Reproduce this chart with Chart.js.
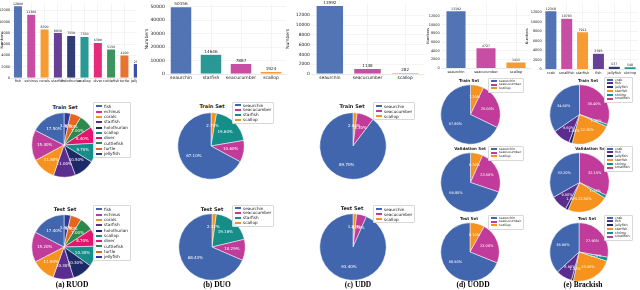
<!DOCTYPE html>
<html>
<head>
<meta charset="utf-8">
<script src="https://cdn.jsdelivr.net/npm/chart.js@4.4.1/dist/chart.umd.min.js"></script>
<style>
  body { margin: 0; background: #fff; width: 640px; height: 290px; position: relative; overflow: hidden; font-family: "DejaVu Sans", sans-serif; }
  canvas { position: absolute; }
  .box { position: absolute; overflow: hidden; }
  .ttl { position: absolute; font-weight: bold; color: #222; white-space: nowrap; transform: translate(-50%, -50%); }
  .lg { position: absolute; border: 0.5px solid #d8d8d8; background: rgba(255,255,255,0.85); padding: 0.5px 2px; border-radius: 1px; color: #222; white-space: nowrap; }
  .lg span { display: inline-block; width: 6px; height: 2px; margin-right: 2px; vertical-align: middle; }
  .cap { position: absolute; font-family: "Liberation Serif", serif; font-weight: bold; font-size: 7.5px; white-space: nowrap; transform: translate(-50%, -50%); }
</style>
</head>
<body>
<script>
// colours
const C = { blue: '#4166ae', pink: '#c13c9a', orange: '#f6921e', purple: '#5a2d8e', navy: '#1e2a68',
  teal: '#158e8a', red: '#e3166f', green: '#2b8a4b', dorange: '#e6661e', jblue: '#2c3c9e' };

// y tick labels
const ticks12k = [0, 2000, 4000, 6000, 8000, 10000, 12000];
const ticks50k = [0, 10000, 20000, 30000, 40000, 50000];

// RUOD
const ruodCats = ['fish', 'echinus', 'corals', 'starfish', 'holothurian', 'scallop', 'diver', 'cuttlefish', 'turtle', 'jellyfish'];
const ruodCounts = [12800, 11300, 8700, 8050, 7550, 7350, 6300, 5150, 4100, 2550];
const ruodTrain = [17.5, 15.4, 11.8, 11.0, 10.5, 9.7, 8.4, 7.0, 5.4, 3.3];
const ruodTest = [17.4, 15.2, 11.9, 10.3, 10.3, 10.3, 8.7, 7.0, 5.5, 3.4];
const ruodColors = [C.blue, C.pink, C.orange, C.purple, C.navy, C.teal, C.red, C.green, C.dorange, C.jblue];

// DUO
const duoBarCats = ['seaurchin', 'starfish', 'seacucumber', 'scallop'];
const duoCounts = [50156, 14646, 7887, 1924];
const duoBarColors = [C.blue, C.teal, C.pink, C.orange];
const duoPieCats = ['seaurchin', 'seacucumber', 'starfish', 'scallop'];
const duoTrain = [67.1, 10.6, 19.6, 2.7];
const duoTest = [68.43, 10.29, 19.16, 2.12];
const duoPieColors = [C.blue, C.pink, C.teal, C.orange];

// UDD
const uddCats = ['seaurchin', 'seacucumber', 'scallop'];
const uddCounts = [13992, 1148, 282];
const uddTrain = [89.7, 8.3, 2.0];
const uddTest = [93.4, 4.78, 1.82];

// UODD
const uoddCats = ['seaurchin', 'seacucumber', 'scallop'];
const uoddCounts = [13192, 4727, 1415];
const uoddTrain = [67.8, 25.0, 7.2];
const uoddVal = [69.8, 23.5, 6.7];
const uoddTest = [68.9, 23.0, 8.1];
const threeColors = [C.blue, C.pink, C.orange];

// Brackish
const brBarCats = ['crab', 'smallfish', 'starfish', 'fish', 'jellyfish', 'shrimp'];
const brCounts = [12368, 10793, 7912, 3393, 637, 548];
const brBarColors = [C.blue, C.pink, C.orange, C.purple, C.navy, C.teal];
const brPieCats = ['crab', 'fish', 'jellyfish', 'starfish', 'shrimp', 'smallfish'];
const brTrain = [34.6, 9.6, 1.8, 22.3, 1.3, 30.4];
const brVal = [33.2, 9.0, 1.5, 22.5, 1.7, 32.1];
const brTest = [36.9, 8.9, 1.1, 23.0, 2.2, 27.9];
const brPieColors = [C.blue, C.purple, C.navy, C.orange, C.teal, C.pink];

Chart.defaults.font.family = '"DejaVu Sans", sans-serif';
Chart.defaults.color = '#222';

const barValues = {
  id: 'barValues',
  afterDatasetsDraw(chart, args, opts) {
    const ctx = chart.ctx;
    const ds = chart.data.datasets[0];
    ctx.save();
    ctx.font = opts.size + 'px "DejaVu Sans"';
    ctx.fillStyle = '#222';
    ctx.textAlign = 'center';
    ctx.textBaseline = 'bottom';
    chart.getDatasetMeta(0).data.forEach((b, i) => ctx.fillText(ds.data[i], b.x, b.y - 0.3));
    ctx.restore();
  }
};

const pieLabels = {
  id: 'pieLabels',
  afterDatasetsDraw(chart, args, opts) {
    const ctx = chart.ctx;
    const ds = chart.data.datasets[0];
    ctx.save();
    ctx.font = opts.size + 'px "DejaVu Sans"';
    ctx.fillStyle = '#fff';
    ctx.textAlign = 'center';
    ctx.textBaseline = 'middle';
    chart.getDatasetMeta(0).data.forEach((a, i) => {
      const mid = (a.startAngle + a.endAngle) / 2;
      const r = a.outerRadius * 0.6;
      ctx.fillText(ds.data[i].toFixed(2) + '%', a.x + Math.cos(mid) * r, a.y + Math.sin(mid) * r);
    });
    ctx.restore();
  }
};

function addCanvas(parent, left, top, w, h) {
  const cv = document.createElement('canvas');
  cv.width = w; cv.height = h;
  cv.style.left = left + 'px'; cv.style.top = top + 'px';
  cv.style.width = w + 'px'; cv.style.height = h + 'px';
  parent.appendChild(cv);
  return cv;
}

function barChart(parent, left, top, w, h, area, cats, counts, colors, yMax, yTicks, fs, bp) {
  const cv = addCanvas(parent, left, top, w, h);
  new Chart(cv, {
    type: 'bar',
    data: {
      labels: cats,
      datasets: [{
        data: counts,
        backgroundColor: colors.map(c => c + 'e8'),
        borderColor: 'rgba(255,255,255,0.6)',
        borderWidth: 0.5,
        barPercentage: bp,
        categoryPercentage: 1
      }]
    },
    options: {
      responsive: false,
      animation: false,
      devicePixelRatio: 1,
      events: [],
      layout: { padding: { top: area.top, right: w - area.right, left: 0, bottom: 0 } },
      plugins: { legend: { display: false }, tooltip: { enabled: false }, barValues: { size: fs - 0.3 } },
      scales: {
        x: {
          grid: { offset: false, color: '#e8e8e8', lineWidth: 0.5, drawTicks: false },
          border: { color: '#dcdcdc', width: 0.5 },
          ticks: { font: { size: fs }, padding: 1.2, maxRotation: 0, autoSkip: false },
          afterFit: s => { s.height = h - area.bottom; }
        },
        y: {
          min: 0, max: yMax,
          grid: { color: '#e8e8e8', lineWidth: 0.5, drawTicks: false },
          border: { display: false },
          ticks: { font: { size: fs }, padding: 1.2, autoSkip: false, callback: v => String(v) },
          title: { display: true, text: 'Numbers', font: { size: fs }, padding: 0 },
          afterBuildTicks: s => { s.ticks = yTicks.map(v => ({ value: v })); },
          afterFit: s => { s.width = area.left; }
        }
      }
    },
    plugins: [barValues]
  });
}

function pieChart(cx, cy, r, cats, pct, colors, fs) {
  const size = Math.round(2 * r + 2);
  const cv = addCanvas(document.body, cx - size / 2, cy - size / 2, size, size);
  new Chart(cv, {
    type: 'pie',
    data: {
      labels: [...cats].reverse(),
      datasets: [{ data: [...pct].reverse(), backgroundColor: [...colors].reverse(), borderColor: '#fff', borderWidth: 0.5 }]
    },
    options: {
      responsive: false,
      animation: false,
      devicePixelRatio: 1,
      events: [],
      layout: { padding: 0.5 },
      plugins: { legend: { display: false }, tooltip: { enabled: false }, pieLabels: { size: fs } }
    },
    plugins: [pieLabels]
  });
}

function text(cls, x, y, str, fs) {
  const d = document.createElement('div');
  d.className = cls;
  d.style.left = x + 'px'; d.style.top = y + 'px';
  if (fs) d.style.fontSize = fs + 'px';
  d.textContent = str;
  document.body.appendChild(d);
}

function legend(x, y, cats, colors, fs, lh) {
  const d = document.createElement('div');
  d.className = 'lg';
  d.style.left = x + 'px'; d.style.top = y + 'px';
  d.style.fontSize = fs + 'px'; d.style.lineHeight = lh + 'px';
  d.innerHTML = cats.map((c, i) => `<div><span style="background:${colors[i]}"></span>${c}</div>`).join('');
  document.body.appendChild(d);
}

// bar charts, top row
const ruodBox = document.createElement('div');
ruodBox.className = 'box';
Object.assign(ruodBox.style, { left: '0px', top: '0px', width: '137px', height: '84px' });
document.body.appendChild(ruodBox);
barChart(ruodBox, 0, 0, 146, 84, { left: 11.3, right: 144.4, top: 1, bottom: 78 }, ruodCats, ruodCounts, ruodColors, 13250, ticks12k, 3.5, 0.68);
barChart(document.body, 144, 0, 146, 84, { left: 22, right: 142, top: 2, bottom: 74 }, duoBarCats, duoCounts, duoBarColors, 52200, ticks50k, 4.5, 0.72);
barChart(document.body, 285, 0, 145, 84, { left: 26, right: 139, top: 1, bottom: 74 }, uddCats, uddCounts, threeColors, 14350, ticks12k, 4.4, 0.73);
barChart(document.body, 426, 0, 106, 76, { left: 15, right: 105, top: 3, bottom: 68.3 }, uoddCats, uoddCounts, threeColors, 14890, ticks12k, 3.5, 0.67);
barChart(document.body, 525, 0, 115, 77, { left: 18, right: 113, top: 3, bottom: 69.3 }, brBarCats, brCounts, brBarColors, 13950, ticks12k, 3.5, 0.76);

// RUOD pies
text('ttl', 65, 107, 'Train Set', 5);
pieChart(64, 145, 32, ruodCats, ruodTrain, ruodColors, 4);
legend(93, 102, ruodCats, ruodColors, 4.2, 5.3);
text('ttl', 65, 209, 'Test Set', 5);
pieChart(64, 246.5, 32, ruodCats, ruodTest, ruodColors, 4);
legend(93, 205, ruodCats, ruodColors, 4.2, 5.3);

// DUO pies
text('ttl', 212, 106, 'Train Set', 5);
pieChart(211, 145.5, 33, duoPieCats, duoTrain, duoPieColors, 4);
legend(232, 102, duoPieCats, duoPieColors, 4.2, 4.8);
text('ttl', 212, 209, 'Test Set', 5);
pieChart(212, 246.5, 33, duoPieCats, duoTest, duoPieColors, 4);
legend(232, 205, duoPieCats, duoPieColors, 4.2, 4.8);

// UDD pies
text('ttl', 352, 106, 'Train Set', 5);
pieChart(352.5, 145.5, 33, uddCats, uddTrain, threeColors, 4);
legend(373, 102, uddCats, threeColors, 4.2, 5);
text('ttl', 352, 208, 'Test Set', 5);
pieChart(352.5, 247, 33, uddCats, uddTest, threeColors, 4);
legend(373, 205, uddCats, threeColors, 4.2, 5);

// UODD pies
text('ttl', 469, 80, 'Train Set', 4);
pieChart(470, 114, 29.5, uoddCats, uoddTrain, threeColors, 3.5);
legend(488, 78, uoddCats, threeColors, 3.3, 3.9);
text('ttl', 470, 148, 'Validation Set', 4);
pieChart(470, 182, 29.5, uoddCats, uoddVal, threeColors, 3.5);
legend(488, 146, uoddCats, threeColors, 3.3, 3.9);
text('ttl', 469, 218, 'Test Set', 4);
pieChart(470, 251.5, 29, uoddCats, uoddTest, threeColors, 3.5);
legend(488, 215, uoddCats, threeColors, 3.3, 3.9);

// Brackish pies
text('ttl', 588, 80, 'Train Set', 4);
pieChart(579, 114, 29.5, brPieCats, brTrain, brPieColors, 3.5);
legend(604, 77, brPieCats, brPieColors, 3.3, 3.8);
text('ttl', 591, 148, 'Validation Set', 4);
pieChart(579, 182, 29.5, brPieCats, brVal, brPieColors, 3.5);
legend(604, 146, brPieCats, brPieColors, 3.3, 3.8);
text('ttl', 587, 218, 'Test Set', 4);
pieChart(579, 251.5, 29, brPieCats, brTest, brPieColors, 3.5);
legend(604, 215, brPieCats, brPieColors, 3.3, 3.8);

// captions
text('cap', 72, 284, '(a) RUOD');
text('cap', 217, 284, '(b) DUO');
text('cap', 358, 284, '(c) UDD');
text('cap', 473, 284, '(d) UODD');
text('cap', 583, 284, '(e) Brackish');
</script>
</body>
</html>
